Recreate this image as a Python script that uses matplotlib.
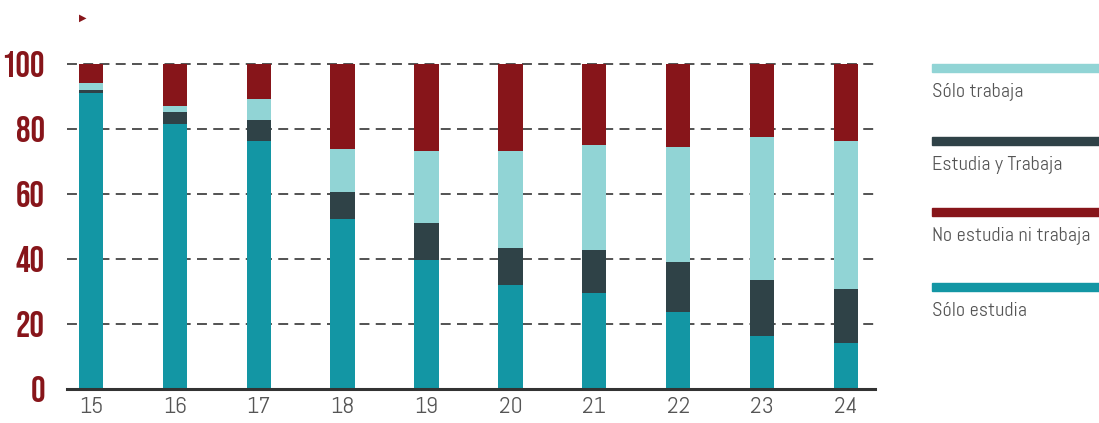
import numpy as np
import matplotlib.pyplot as plt

ages = ["15", "16", "17", "18", "19", "20", "21", "22", "23", "24"]

# porcentajes por edad (suman 100)
solo_estudia = [91.2, 81.5, 76.3, 52.3, 39.6, 31.9, 29.4, 23.6, 16.2, 14.3]
estudia_trabaja = [0.8, 3.7, 6.4, 8.3, 11.4, 11.4, 13.3, 15.4, 17.3, 16.4]
solo_trabaja = [2.1, 1.9, 6.5, 13.2, 22.2, 29.9, 32.3, 35.4, 44.0, 45.6]
no_estudia = [5.9, 12.9, 10.8, 26.2, 26.8, 26.8, 25.0, 25.6, 22.5, 23.7]

c_estudia = "#1396A4"
c_ambos = "#2F4247"
c_trabaja = "#91D4D5"
c_nini = "#87151A"
red_txt = "#87151A"
grey_txt = "#555555"
light_font = ["Abel", "DejaVu Sans"]
num_font = ["Bebas Neue", "DejaVu Sans"]

W, H = 1099, 423
fig = plt.figure(figsize=(W / 100, H / 100), dpi=100)
ax = fig.add_axes([67 / W, (H - 389) / H, (875 - 67) / W, (389 - 64) / H])

x = np.arange(len(ages))
bw = 0.29
s1 = np.array(solo_estudia)
s2 = s1 + np.array(estudia_trabaja)
s3 = s2 + np.array(solo_trabaja)
ax.bar(x, solo_estudia, bw, color=c_estudia, zorder=2)
ax.bar(x, estudia_trabaja, bw, bottom=s1, color=c_ambos, zorder=2)
ax.bar(x, solo_trabaja, bw, bottom=s2, color=c_trabaja, zorder=2)
ax.bar(x, no_estudia, bw, bottom=s3, color=c_nini, zorder=2)

ax.set_xlim(-0.286, 9.346)
ax.set_ylim(0, 100)

for v in [20, 40, 60, 80, 100]:
    ax.axhline(v, color="#444444", lw=1.3, dashes=(5.5, 3.5), zorder=1, clip_on=False)

for s in ["left", "right", "top"]:
    ax.spines[s].set_visible(False)
ax.spines["bottom"].set_color("#333333")
ax.spines["bottom"].set_linewidth(2.2)
ax.spines["bottom"].set_zorder(3)

ax.set_xticks(x)
ax.set_xticklabels(ages, fontsize=17, color=grey_txt, family=light_font)
ax.set_yticks([0, 20, 40, 60, 80, 100])
ax.set_yticklabels(["0", "20", "40", "60", "80", "100"], fontsize=26, color=red_txt, family=num_font)
ax.tick_params(axis="x", length=0, pad=6)
ax.tick_params(axis="y", length=0, pad=16)

# marcador superior
fig.text(83 / W, 1 - 18 / H, "\u25B6", color=red_txt, fontsize=7, ha="center", va="center",
         family="DejaVu Sans")

# leyenda manual a la derecha
legend = [("Sólo trabaja", c_trabaja, 64), ("Estudia y Trabaja", c_ambos, 137),
          ("No estudia ni trabaja", c_nini, 208), ("Sólo estudia", c_estudia, 283)]
for label, col, ytop in legend:
    fig.patches.append(plt.Rectangle((932 / W, 1 - (ytop + 8) / H), (1099 - 932) / W, 8 / H,
                                     transform=fig.transFigure, color=col))
    fig.text(932 / W, 1 - (ytop + 28) / H, label, fontsize=14.5, color=grey_txt,
             family=light_font, ha="left", va="center")

fig.savefig("out.png", dpi=100)
